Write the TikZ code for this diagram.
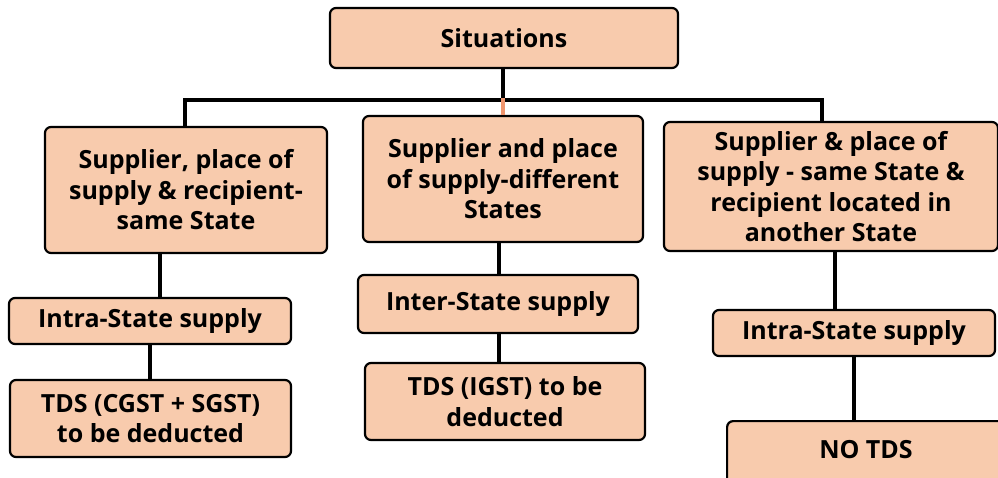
\documentclass[tikz,border=0pt]{standalone}
\usepackage{fontspec}
\setmainfont{Open Sans}
\definecolor{boxfill}{RGB}{248,203,173}
\definecolor{orangeline}{RGB}{240,150,110}
\begin{document}
\begin{tikzpicture}[x=1pt,y=-1pt,
  box/.style={draw=black, line width=2.2pt, fill=boxfill, rounded corners=6pt, inner sep=0pt, align=center, font=\bfseries\fontsize{25}{30.5}\selectfont},
  conn/.style={line width=4pt, black}]
\useasboundingbox (0,0) rectangle (998,477);
% boxes
\node[box, minimum width=348pt, minimum height=60pt] (top) at (504,38) {Situations};
\node[box, minimum width=282pt, minimum height=126pt] (b1) at (186,190) {Supplier, place of\\supply \& recipient-\\same State};
\node[box, minimum width=280pt, minimum height=126pt] (b2) at (503,179) {Supplier and place\\of supply-different\\States};
\node[box, minimum width=334pt, minimum height=129pt] (b3) at (831,186.5) {Supplier \& place of\\supply - same State \&\\recipient located in\\another State};
\node[box, minimum width=282pt, minimum height=46pt] (i1) at (150,321) {Intra-State supply};
\node[box, minimum width=280pt, minimum height=58pt] (i2) at (498,304) {Inter-State supply};
\node[box, minimum width=282pt, minimum height=46pt] (i3) at (854,333) {Intra-State supply};
\node[box, minimum width=281pt, minimum height=77pt] (t1) at (150.5,418.5) {TDS (CGST + SGST)\\to be deducted};
\node[box, minimum width=280pt, minimum height=77pt] (t2) at (505,401.5) {TDS (IGST) to be\\deducted};
\node[box, minimum width=290pt, minimum height=70pt, anchor=north west] (t3) at (726,420) {};
\node[font=\bfseries\fontsize{25}{30.5}\selectfont] (t3l) at (866,450) {NO TDS};
% connector coordinates
\coordinate (hl) at (0,100);
\coordinate (cL) at (185,0);
\coordinate (cR) at (822,0);
\coordinate (cT) at (503,0);
\coordinate (c1) at (160,0);
\coordinate (c2) at (499,0);
\coordinate (c3) at (835,0);
\coordinate (c4) at (854,0);
% top connectors
\draw[conn] (top.south -| cT) -- (hl -| cT);
\draw[conn, line cap=rect] (hl -| cL) -- (hl -| cR);
\draw[conn] (hl -| cL) -- (b1.north -| cL);
\draw[conn] (hl -| cR) -- (b3.north -| cR);
\draw[line width=4pt, orangeline] ([yshift=2pt]hl -| cT) -- (b2.north -| cT);
% lower connectors
\draw[conn] (b1.south -| c1) -- (i1.north -| c1);
\draw[conn] (i1.south) -- (t1.north -| i1.south);
\draw[conn] (b2.south -| c2) -- (i2.north -| c2);
\draw[conn] (i2.south -| c2) -- (t2.north -| c2);
\draw[conn] (b3.south -| c3) -- (i3.north -| c3);
\draw[conn] (i3.south -| c4) -- (t3.north -| c4);
\end{tikzpicture}
\end{document}
